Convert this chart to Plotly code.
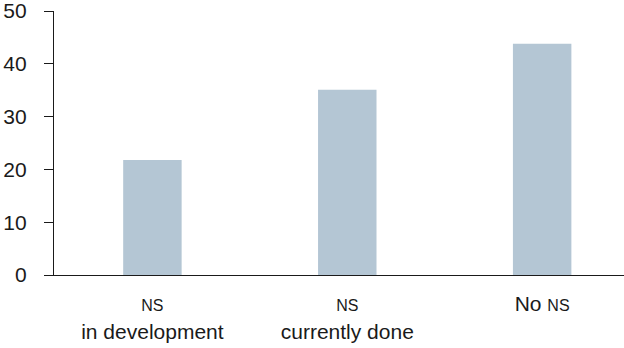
import plotly.graph_objects as go

# Survey shares by status of NS
categories = ["NS in development", "NS currently done", "No NS"]
values = [21.8, 35.1, 43.8]
tick_labels = [
    "<span style='font-size:16px'>NS</span><br>in development",
    "<span style='font-size:16px'>NS</span><br>currently done",
    "No <span style='font-size:16px'>NS</span>",
]
y_ticks = [0, 10, 20, 30, 40, 50]

BAR_COLOR = "#b4c6d4"
INK = "#1a1a1a"

fig = go.Figure(
    go.Bar(
        x=categories,
        y=values,
        marker=dict(color=BAR_COLOR, line=dict(width=0)),
        width=0.3,
        hoverinfo="skip",
    )
)

fig.update_layout(
    width=624,
    height=348,
    margin=dict(l=54, r=0, t=11, b=73),
    paper_bgcolor="white",
    plot_bgcolor="white",
    showlegend=False,
    font=dict(family="Liberation Sans, Arial, Helvetica, sans-serif", size=21, color=INK),
)

fig.update_xaxes(
    type="category",
    range=[-0.505, 2.42],
    tickmode="array",
    tickvals=categories,
    ticktext=tick_labels,
    ticks="",
    showline=True,
    linecolor=INK,
    linewidth=1.3,
    showgrid=False,
    zeroline=False,
    ticklabelstandoff=10,
)

fig.update_yaxes(
    range=[0, 50],
    tickvals=y_ticks,
    ticks="outside",
    ticklen=9,
    tickcolor=INK,
    tickwidth=1.2,
    showline=True,
    linecolor=INK,
    linewidth=1.2,
    showgrid=False,
    zeroline=False,
    ticklabelstandoff=13,
    ticklabeloverflow="allow",
)

fig.write_html("out.html")
